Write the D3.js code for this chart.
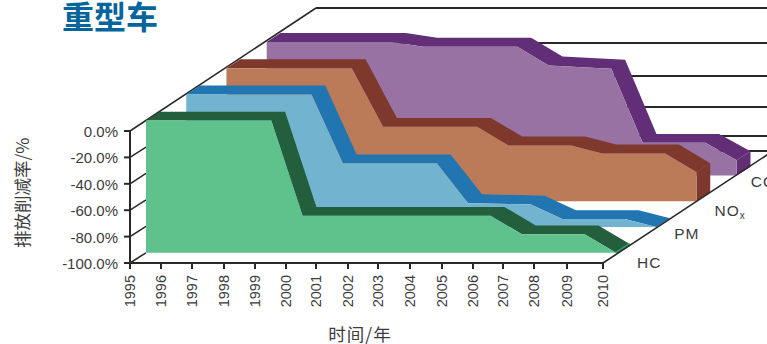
<!DOCTYPE html>
<html>
<head>
<meta charset="utf-8">
<script src="https://cdn.jsdelivr.net/npm/d3@7"></script>
<style>
  html, body { margin: 0; padding: 0; background: #fff; }
  svg { display: block; }
  text { font-family: "Liberation Sans", Arial, sans-serif; fill: #3c3c3e; }
  .cjk { font-family: "Noto Sans CJK SC", sans-serif; }
</style>
</head>
<body>
<svg id="chart" width="767" height="344"></svg>
<script>
// Emission-reduction steps for heavy-duty vehicles, one ribbon per pollutant.
const years = [1995, 1996, 1997, 1998, 1999, 2000, 2001, 2002, 2003, 2004, 2005, 2006, 2007, 2008, 2009, 2010];
const percentTicks = [0, -20, -40, -60, -80, -100];
const seriesNames = ["HC", "PM", "NOx", "CO"];

// Each series lists [year, reduction %] at its step corners.
const hcValues = [[1995, 0], [1999, 0], [2000, -72], [2006, -72], [2007, -86], [2009, -86], [2010, -100]];
const pmValues = [[1995, 0], [1999, 0], [2000, -52], [2003, -52], [2004, -82], [2006, -83], [2007, -94], [2009, -94], [2010, -100]];
const noxValues = [[1995, 0], [1999, 0], [2000, -44], [2003, -44], [2004, -58], [2006, -58], [2007, -64], [2009, -64], [2010, -78]];
const coValues = [[1995, 0], [1999, 0], [2000, -3.5], [2003, -3.5], [2004, -17.5], [2006, -20], [2007, -75.5], [2009, -75.5], [2010, -88.5]];

const seriesData = { HC: hcValues, PM: pmValues, NOx: noxValues, CO: coValues };
const lightColors = { HC: "#5fc18c", PM: "#72b3cf", NOx: "#bb7b59", CO: "#9872a3" };
const darkColors = { HC: "#235f3d", PM: "#2175b0", NOx: "#7e392c", CO: "#612e77" };
const capColors = { HC: "#2f9e5f", PM: "#2175b0", NOx: "#7e392c", CO: "#612e77" };

const svg = d3.select("#chart");
const ink = "#2a2826";

// Tick marks sit slightly unevenly along the time axis; the ribbons use an even scale.
const xTick = d3.scaleLinear()
  .domain(years)
  .range([130, 161, 192, 224, 255, 286, 316, 348, 378, 410, 442, 473, 503, 534, 567, 603]);
const x = d3.scaleLinear().domain([1995, 2010]).range([130, 600]);
const y = d3.scaleLinear().domain([0, -100]).range([131, 263]);

// Depth runs from the front plane (0) to the back wall (1).
const depthX = d3.scaleLinear().domain([0, 1]).range([0, 186]);
const depthTop = d3.scaleLinear().domain([0, 1]).range([0, -121]);
const depthBottom = d3.scaleLinear().domain([0, 1]).range([0, -119]);
const depth = d3.scalePoint().domain(seriesNames).range([0.086, 0.735]);
const ribbonDepth = 0.074;

const px = (year, k) => x(year) + depthX(k);
const py = (value, k) => d3.scaleLinear()
  .domain([0, -100])
  .range([y(0) + depthTop(k), y(-100) + depthBottom(k)])(value);

// Back wall gridlines narrow toward the floor.
const backY = d3.scaleLinear().domain(percentTicks).range([8, 43, 76, 107, 136, 151]);

svg.append("g").selectAll("line")
  .data(percentTicks)
  .join("line")
  .attr("x1", px(1995, 1))
  .attr("x2", 767)
  .attr("y1", d => backY(d))
  .attr("y2", d => backY(d))
  .attr("stroke", ink)
  .attr("stroke-width", 2);

// Left wall: top edge up to the back wall, short grid stubs at the lower ticks.
svg.append("line")
  .attr("x1", x(1995)).attr("y1", y(0))
  .attr("x2", px(1995, 1)).attr("y2", backY(0))
  .attr("stroke", ink).attr("stroke-width", 1.5);

svg.append("g").selectAll("line")
  .data(percentTicks.slice(1))
  .join("line")
  .attr("x1", x(1995))
  .attr("y1", d => y(d))
  .attr("x2", px(1995, depth("HC")))
  .attr("y2", d => py(d, depth("HC")))
  .attr("stroke", ink)
  .attr("stroke-width", 1.5);

// Ribbons are painted back to front so nearer ones cover the farther ones.
const line = d3.line();
seriesNames.slice().reverse().forEach(name => {
  const values = seriesData[name];
  const k = depth(name);
  const kb = k + ribbonDepth;
  const last = values[values.length - 1];
  const g = svg.append("g").attr("class", "ribbon-" + name);

  const frontTop = values.map(([yr, v]) => [px(yr, k), py(v, k)]);
  const backTop = values.map(([yr, v]) => [px(yr, kb), py(v, kb)]);

  // Top surface of the step profile.
  g.append("path")
    .attr("d", line(frontTop.concat(backTop.slice().reverse())) + "Z")
    .attr("fill", darkColors[name]);

  // End cap dropping to the floor.
  g.append("path")
    .attr("d", line([
      [px(last[0], k), py(last[1], k)],
      [px(last[0], kb), py(last[1], kb)],
      [px(last[0], kb), py(-100, kb)],
      [px(last[0], k), py(-100, k)]
    ]) + "Z")
    .attr("fill", capColors[name])
    .attr("stroke", capColors[name])
    .attr("stroke-width", name === "HC" ? 2.5 : 0);

  // Front face.
  g.append("path")
    .attr("d", line(frontTop.concat([[px(last[0], k), py(-100, k)], [px(years[0], k), py(-100, k)]])) + "Z")
    .attr("fill", lightColors[name]);
});

// Floor edge on the right side.
svg.append("line")
  .attr("x1", xTick(2010)).attr("y1", y(-100))
  .attr("x2", xTick(2010) + depthX(1)).attr("y2", y(-100) + depthBottom(1) * 1.03)
  .attr("stroke", ink).attr("stroke-width", 1.6);

// Front axes.
const axisG = svg.append("g").attr("stroke", ink).attr("stroke-width", 2).attr("fill", "none");
axisG.append("line").attr("x1", xTick(1995)).attr("x2", xTick(2010)).attr("y1", y(-100)).attr("y2", y(-100));
axisG.append("line").attr("x1", xTick(1995)).attr("x2", xTick(1995)).attr("y1", y(0)).attr("y2", y(-100));

svg.append("g")
  .selectAll("line")
  .data(years)
  .join("line")
  .attr("x1", d => xTick(d)).attr("x2", d => xTick(d))
  .attr("y1", y(-100)).attr("y2", y(-100) + 6)
  .attr("stroke", ink).attr("stroke-width", 2);

svg.append("g")
  .selectAll("line")
  .data(percentTicks)
  .join("line")
  .attr("x1", xTick(1995) - 6).attr("x2", xTick(1995))
  .attr("y1", d => y(d)).attr("y2", d => y(d))
  .attr("stroke", ink).attr("stroke-width", 2);

// Tick labels.
svg.append("g")
  .selectAll("text")
  .data(percentTicks)
  .join("text")
  .attr("x", 118)
  .attr("y", d => y(d) + 0.5)
  .attr("dy", "0.36em")
  .attr("text-anchor", "end")
  .attr("font-size", 15)
  .text(d => d.toFixed(1) + "%");

svg.append("g")
  .selectAll("text")
  .data(years)
  .join("text")
  .attr("transform", d => `translate(${xTick(d) + 5},${y(-100) + 12}) rotate(-90)`)
  .attr("text-anchor", "end")
  .attr("font-size", 14.5)
  .text(d => d);

// Series labels along the floor edge.
const seriesLabels = [
  { key: "HC", dx: 21, dy: 15 },
  { key: "PM", dx: 18, dy: 12 },
  { key: "NOx", dx: 18, dy: 15 },
  { key: "CO", dx: 14, dy: 11 }
];
const labelG = svg.append("g");
seriesLabels.forEach(({ key, dx, dy }) => {
  const k = depth(key);
  const label = labelG.append("text")
    .attr("x", x(2010) + depthX(k) + dx)
    .attr("y", y(-100) + depthBottom(k) + dy)
    .attr("font-size", 15.5)
    .attr("letter-spacing", 1);
  if (key === "NOx") {
    label.append("tspan").text("NO");
    label.append("tspan").attr("font-size", 10).attr("dy", 3).text("x");
  } else {
    label.text(key);
  }
});

// Titles.
svg.append("text")
  .attr("class", "cjk")
  .attr("x", 62).attr("y", 29)
  .attr("font-size", 32).attr("font-weight", 700)
  .style("fill", "#05659c")
  .text("重型车");

svg.append("text")
  .attr("class", "cjk")
  .attr("transform", "translate(29,248) rotate(-90)")
  .attr("font-size", 17.5)
  .text("排放削减率/%");

svg.append("text")
  .attr("class", "cjk")
  .attr("x", 360).attr("y", 341)
  .attr("text-anchor", "middle")
  .attr("font-size", 17.5)
  .attr("letter-spacing", 1)
  .text("时间/年");
</script>
</body>
</html>
